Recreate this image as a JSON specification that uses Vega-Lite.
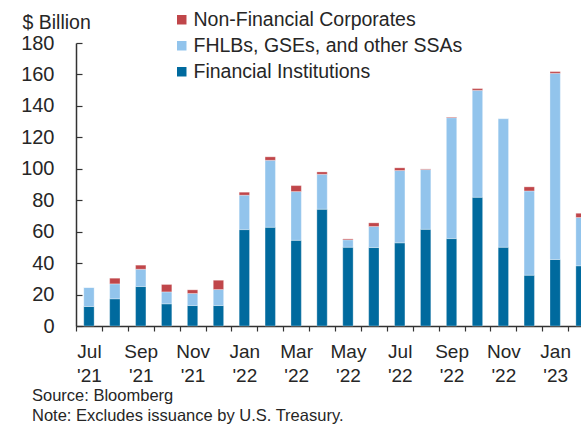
{
  "$schema": "https://vega.github.io/schema/vega-lite/v6.json",
  "autosize": {"type": "none"},
  "width": 505,
  "height": 283,
  "padding": {"left": 76, "top": 43, "right": 0, "bottom": 99},
  "background": "white",
  "config": {
    "font": "Liberation Sans",
    "view": {"stroke": null},
    "axis": {"labelFont": "Liberation Sans", "titleFont": "Liberation Sans", "labelColor": "#262626", "titleColor": "#262626"}
  },
  "title": {
    "text": ["Source: Bloomberg", "Note: Excludes issuance by U.S. Treasury."],
    "orient": "bottom",
    "anchor": "start",
    "frame": "group",
    "dx": -44,
    "offset": 2,
    "fontSize": 16.5,
    "fontWeight": "normal",
    "font": "Liberation Sans",
    "color": "#262626",
    "lineHeight": 20.5
  },
  "data": {
    "values": [
      {"month": "Jul '21", "series": "Financial Institutions", "ord": 1, "value": 12.4},
      {"month": "Jul '21", "series": "FHLBs, GSEs, and other SSAs", "ord": 2, "value": 12.1},
      {"month": "Jul '21", "series": "Non-Financial Corporates", "ord": 3, "value": 0},
      {"month": "Aug '21", "series": "Financial Institutions", "ord": 1, "value": 17.3},
      {"month": "Aug '21", "series": "FHLBs, GSEs, and other SSAs", "ord": 2, "value": 9.5},
      {"month": "Aug '21", "series": "Non-Financial Corporates", "ord": 3, "value": 3.6},
      {"month": "Sep '21", "series": "Financial Institutions", "ord": 1, "value": 25.1},
      {"month": "Sep '21", "series": "FHLBs, GSEs, and other SSAs", "ord": 2, "value": 11.0},
      {"month": "Sep '21", "series": "Non-Financial Corporates", "ord": 3, "value": 2.6},
      {"month": "Oct '21", "series": "Financial Institutions", "ord": 1, "value": 14.1},
      {"month": "Oct '21", "series": "FHLBs, GSEs, and other SSAs", "ord": 2, "value": 7.6},
      {"month": "Oct '21", "series": "Non-Financial Corporates", "ord": 3, "value": 4.7},
      {"month": "Nov '21", "series": "Financial Institutions", "ord": 1, "value": 13.0},
      {"month": "Nov '21", "series": "FHLBs, GSEs, and other SSAs", "ord": 2, "value": 7.7},
      {"month": "Nov '21", "series": "Non-Financial Corporates", "ord": 3, "value": 2.3},
      {"month": "Dec '21", "series": "Financial Institutions", "ord": 1, "value": 13.0},
      {"month": "Dec '21", "series": "FHLBs, GSEs, and other SSAs", "ord": 2, "value": 10.2},
      {"month": "Dec '21", "series": "Non-Financial Corporates", "ord": 3, "value": 5.9},
      {"month": "Jan '22", "series": "Financial Institutions", "ord": 1, "value": 61.3},
      {"month": "Jan '22", "series": "FHLBs, GSEs, and other SSAs", "ord": 2, "value": 21.9},
      {"month": "Jan '22", "series": "Non-Financial Corporates", "ord": 3, "value": 1.9},
      {"month": "Feb '22", "series": "Financial Institutions", "ord": 1, "value": 62.8},
      {"month": "Feb '22", "series": "FHLBs, GSEs, and other SSAs", "ord": 2, "value": 42.6},
      {"month": "Feb '22", "series": "Non-Financial Corporates", "ord": 3, "value": 2.2},
      {"month": "Mar '22", "series": "Financial Institutions", "ord": 1, "value": 54.5},
      {"month": "Mar '22", "series": "FHLBs, GSEs, and other SSAs", "ord": 2, "value": 31.0},
      {"month": "Mar '22", "series": "Non-Financial Corporates", "ord": 3, "value": 3.8},
      {"month": "Apr '22", "series": "Financial Institutions", "ord": 1, "value": 74.3},
      {"month": "Apr '22", "series": "FHLBs, GSEs, and other SSAs", "ord": 2, "value": 22.2},
      {"month": "Apr '22", "series": "Non-Financial Corporates", "ord": 3, "value": 1.5},
      {"month": "May '22", "series": "Financial Institutions", "ord": 1, "value": 50.1},
      {"month": "May '22", "series": "FHLBs, GSEs, and other SSAs", "ord": 2, "value": 4.7},
      {"month": "May '22", "series": "Non-Financial Corporates", "ord": 3, "value": 0.6},
      {"month": "Jun '22", "series": "Financial Institutions", "ord": 1, "value": 49.9},
      {"month": "Jun '22", "series": "FHLBs, GSEs, and other SSAs", "ord": 2, "value": 13.4},
      {"month": "Jun '22", "series": "Non-Financial Corporates", "ord": 3, "value": 2.3},
      {"month": "Jul '22", "series": "Financial Institutions", "ord": 1, "value": 52.9},
      {"month": "Jul '22", "series": "FHLBs, GSEs, and other SSAs", "ord": 2, "value": 46.0},
      {"month": "Jul '22", "series": "Non-Financial Corporates", "ord": 3, "value": 1.7},
      {"month": "Aug '22", "series": "Financial Institutions", "ord": 1, "value": 61.5},
      {"month": "Aug '22", "series": "FHLBs, GSEs, and other SSAs", "ord": 2, "value": 38.0},
      {"month": "Aug '22", "series": "Non-Financial Corporates", "ord": 3, "value": 0.4},
      {"month": "Sep '22", "series": "Financial Institutions", "ord": 1, "value": 55.6},
      {"month": "Sep '22", "series": "FHLBs, GSEs, and other SSAs", "ord": 2, "value": 76.9},
      {"month": "Sep '22", "series": "Non-Financial Corporates", "ord": 3, "value": 0.4},
      {"month": "Oct '22", "series": "Financial Institutions", "ord": 1, "value": 81.9},
      {"month": "Oct '22", "series": "FHLBs, GSEs, and other SSAs", "ord": 2, "value": 68.0},
      {"month": "Oct '22", "series": "Non-Financial Corporates", "ord": 3, "value": 1.1},
      {"month": "Nov '22", "series": "Financial Institutions", "ord": 1, "value": 50.1},
      {"month": "Nov '22", "series": "FHLBs, GSEs, and other SSAs", "ord": 2, "value": 81.8},
      {"month": "Nov '22", "series": "Non-Financial Corporates", "ord": 3, "value": 0},
      {"month": "Dec '22", "series": "Financial Institutions", "ord": 1, "value": 32.3},
      {"month": "Dec '22", "series": "FHLBs, GSEs, and other SSAs", "ord": 2, "value": 53.6},
      {"month": "Dec '22", "series": "Non-Financial Corporates", "ord": 3, "value": 2.6},
      {"month": "Jan '23", "series": "Financial Institutions", "ord": 1, "value": 42.3},
      {"month": "Jan '23", "series": "FHLBs, GSEs, and other SSAs", "ord": 2, "value": 118.4},
      {"month": "Jan '23", "series": "Non-Financial Corporates", "ord": 3, "value": 1.1},
      {"month": "Feb '23", "series": "Financial Institutions", "ord": 1, "value": 38.3},
      {"month": "Feb '23", "series": "FHLBs, GSEs, and other SSAs", "ord": 2, "value": 30.7},
      {"month": "Feb '23", "series": "Non-Financial Corporates", "ord": 3, "value": 2.7}
    ]
  },
  "mark": {"type": "bar", "stroke": "white", "strokeWidth": 0.5, "strokeOpacity": 0.6},
  "encoding": {
    "x": {
      "field": "month",
      "type": "ordinal",
      "sort": null,
      "scale": {"range": [0, 518], "paddingInner": 0.6, "paddingOuter": 0.3},
      "axis": {
        "title": null,
        "labelAngle": 0,
        "labelFontSize": 19,
        "labelLineHeight": 24.5,
        "labelPadding": 11,
        "labelExpr": "test(/^(Jul|Sep|Nov|Jan|Mar|May) /, datum.value) ? split(datum.value, ' ') : ''",
        "labelBaseline": "top",
        "ticks": true,
        "tickSize": 5,
        "tickOffset": -12.95,
        "labelOffset": 12.95,
        "tickColor": "#333333",
        "tickWidth": 1.2,
        "domainColor": "#333333",
        "domainWidth": 1.5,
        "labelOverlap": false
      }
    },
    "y": {
      "field": "value",
      "type": "quantitative",
      "stack": "zero",
      "scale": {"domain": [0, 180], "nice": false},
      "axis": {
        "values": [0, 20, 40, 60, 80, 100, 120, 140, 160, 180],
        "grid": false,
        "title": "$ Billion",
        "titleAngle": 0,
        "titleAlign": "left",
        "titleBaseline": "alphabetic",
        "titleX": -54,
        "titleY": -15,
        "titleFontSize": 19.5,
        "titleFontWeight": "normal",
        "labelFontSize": 20,
        "labelPadding": 28,
        "tickSize": -6,
        "tickColor": "#333333",
        "tickWidth": 1.2,
        "domainColor": "#333333",
        "domainWidth": 1.5
      }
    },
    "color": {
      "field": "series",
      "type": "nominal",
      "scale": {
        "domain": ["Non-Financial Corporates", "FHLBs, GSEs, and other SSAs", "Financial Institutions"],
        "range": ["#C0464A", "#92C4EC", "#006A9E"]
      },
      "legend": {
        "title": null,
        "orient": "none",
        "legendX": 96,
        "legendY": -33,
        "symbolType": "square",
        "symbolSize": 90,
        "symbolStrokeWidth": 0,
        "symbolOpacity": 1,
        "labelFontSize": 19.5,
        "labelFont": "Liberation Sans",
        "labelColor": "#262626",
        "labelOffset": 2,
        "rowPadding": 5,
        "labelLimit": 400
      }
    },
    "order": {"field": "ord", "type": "quantitative"}
  }
}
